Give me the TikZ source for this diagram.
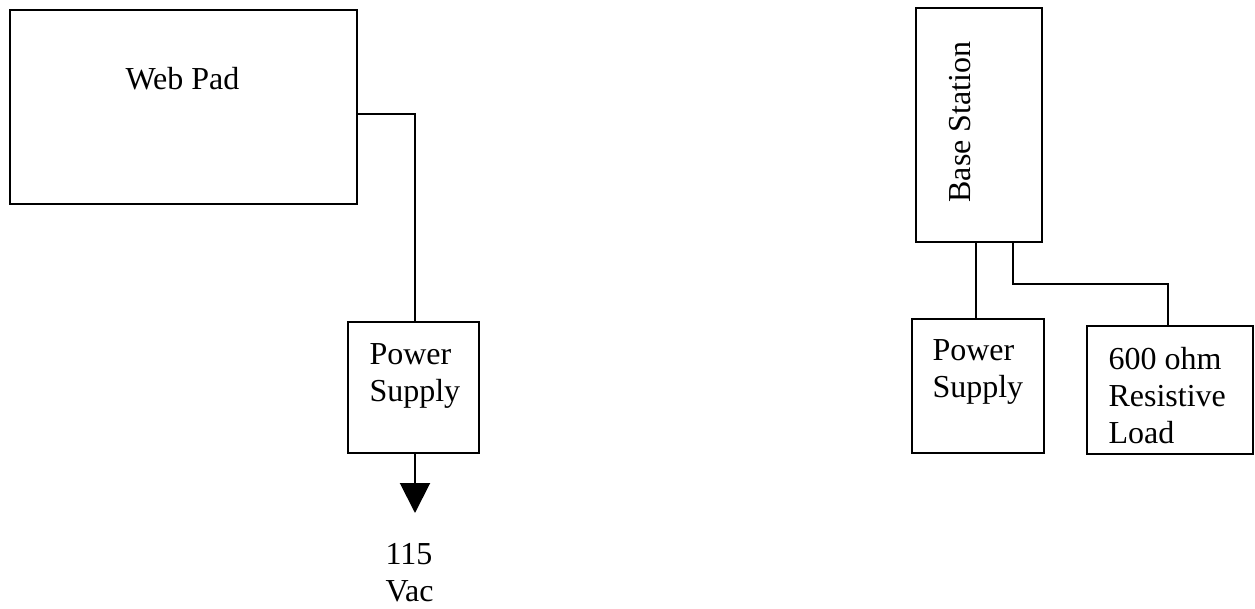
\documentclass[tikz,border=0pt]{standalone}
\usepackage{fontspec}
\setmainfont{Liberation Serif}
\usetikzlibrary{arrows.meta}
\begin{document}
\begin{tikzpicture}[x=0.375pt,y=-0.375pt,
  boxn/.style={draw=black, line width=0.75pt, rectangle, inner sep=0pt},
  conn/.style={draw=black, line width=0.75pt},
  txt/.style={inner sep=0pt, align=left, font=\fontsize{12pt}{13.8pt}\selectfont}]
\useasboundingbox (0,0) rectangle (1255,608);
% boxes
\node[boxn, minimum width=130.125pt, minimum height=72.75pt] (wp) at (183.5,107) {};
\node[boxn, minimum width=49.125pt, minimum height=49.125pt] (ps1) at (413.5,387.5) {};
\node[boxn, minimum width=47.25pt, minimum height=87.75pt] (bs) at (979,125) {};
\node[boxn, minimum width=49.5pt, minimum height=50.25pt] (ps2) at (978,386) {};
\node[boxn, minimum width=62.25pt, minimum height=48pt] (rl) at (1170,390) {};
% texts
\node[txt, anchor=base west] (twp) at (125,89) {Web Pad};
\node[txt, anchor=north west] (tps1) at (369,343) {Power\\Supply};
\node[txt, anchor=north west] (tps2) at (932,339) {Power\\Supply};
\node[txt, anchor=north west] (trl) at (1108,347) {600 ohm\\Resistive\\Load};
\node[txt, anchor=north west] (tvac) at (385,543) {115\\Vac};
\node[txt, anchor=base west, rotate=90] (tbs) at (970,203) {Base Station};
% connectors
\coordinate (j1) at (415,114);
\draw[conn] (wp.east |- j1) -- (j1) -- (j1 |- ps1.north);
\coordinate (tip) at (415,513);
\draw[conn, -{Triangle[width=11.25pt,length=11.25pt]}] (ps1.south -| tip) -- (tip);
\coordinate (x2) at (976,280);
\draw[conn] (bs.south -| x2) -- (ps2.north -| x2);
\coordinate (j2) at (1013,284);
\coordinate (j3) at (1168,284);
\draw[conn] (bs.south -| j2) -- (j2) -- (j3) -- (j3 |- rl.north);
\end{tikzpicture}
\end{document}
